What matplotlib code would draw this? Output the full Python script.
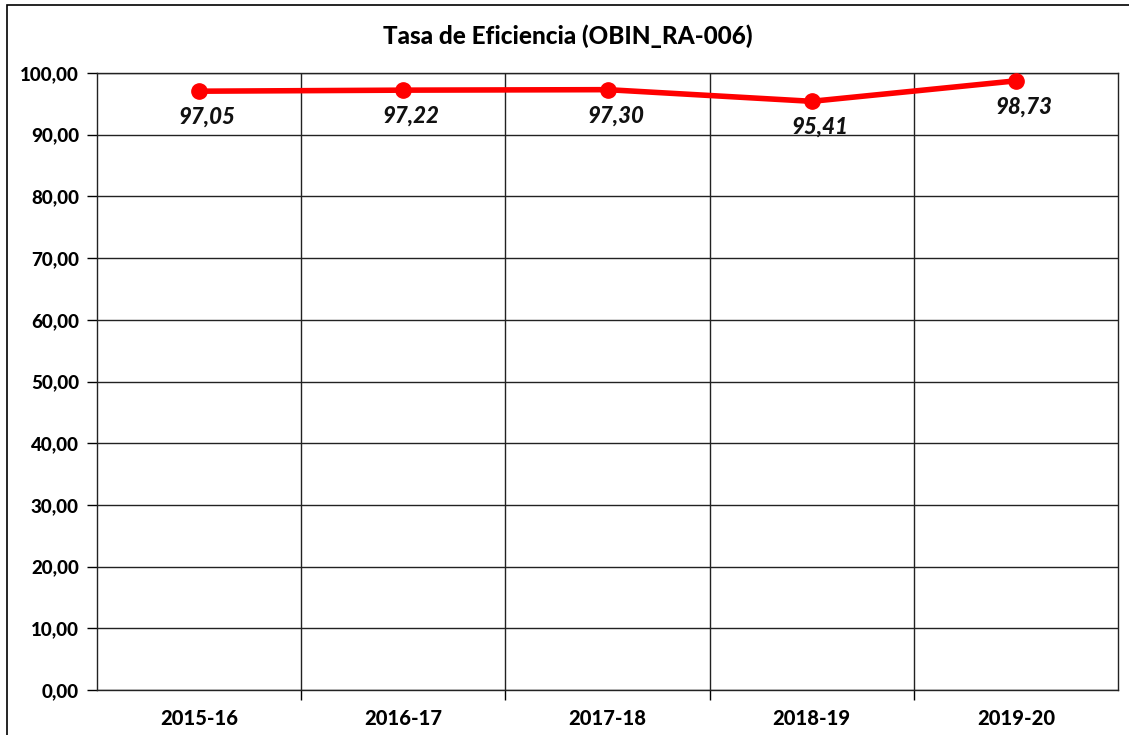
import numpy as np
import matplotlib.pyplot as plt
from matplotlib.patches import Rectangle

# datos
cursos = ['2015-16', '2016-17', '2017-18', '2018-19', '2019-20']
tasa = [97.05, 97.22, 97.30, 95.41, 98.73]
yticks = np.arange(0, 101, 10)

plt.rcParams['font.family'] = ['Lato', 'DejaVu Sans']
peso = 900

fig = plt.figure(figsize=(11.29, 7.35), dpi=100)
ax = fig.add_axes([97/1129, 1-690/735, (1118-97)/1129, (690-73)/735])

# marco exterior del gráfico
fig.patches.append(Rectangle((7/1129, -0.1), 1.2, 1-5/735+0.1, transform=fig.transFigure,
                             fill=False, edgecolor='black', linewidth=1.2))

x = np.arange(len(cursos))
ax.plot(x, tasa, color='#ff0000', linewidth=4, marker='o', markersize=11, zorder=3)

for xi, v in zip(x, tasa):
    etiqueta = f'{v:.2f}'.replace('.', ',')
    ax.annotate(etiqueta, (xi, v), xytext=(8, -26), textcoords='offset pixels',
                ha='center', va='center', fontsize=16, fontweight=peso,
                fontstyle='italic', color='#111111')

ax.set_xlim(-0.5, len(cursos) - 0.5)
ax.set_ylim(0, 100)
ax.set_yticks(yticks)
ax.set_yticklabels([f'{t:.2f}'.replace('.', ',') for t in yticks],
                   fontsize=13.5, fontweight=peso)
ax.set_xticks(x)
ax.set_xticklabels(cursos, fontsize=14.5, fontweight=peso)
ax.set_xticks(np.arange(0.5, len(cursos) - 0.5, 1), minor=True)
ax.tick_params(axis='x', which='major', length=0, pad=14)
ax.tick_params(axis='x', which='minor', length=7, width=1, direction='out')
ax.tick_params(axis='y', length=7, width=1, direction='out', pad=6)

ax.grid(axis='y', which='major', color='#222222', linewidth=1)
ax.grid(axis='x', which='minor', color='#222222', linewidth=1)
ax.set_axisbelow(True)
for s in ax.spines.values():
    s.set_color('#222222')
    s.set_linewidth(1)

fig.text(0.503, 1-36/735, 'Tasa de Eficiencia (OBIN_RA-006)', ha='center', va='center',
         fontsize=17.5, fontweight=peso)

fig.savefig('out.png', dpi=100)
